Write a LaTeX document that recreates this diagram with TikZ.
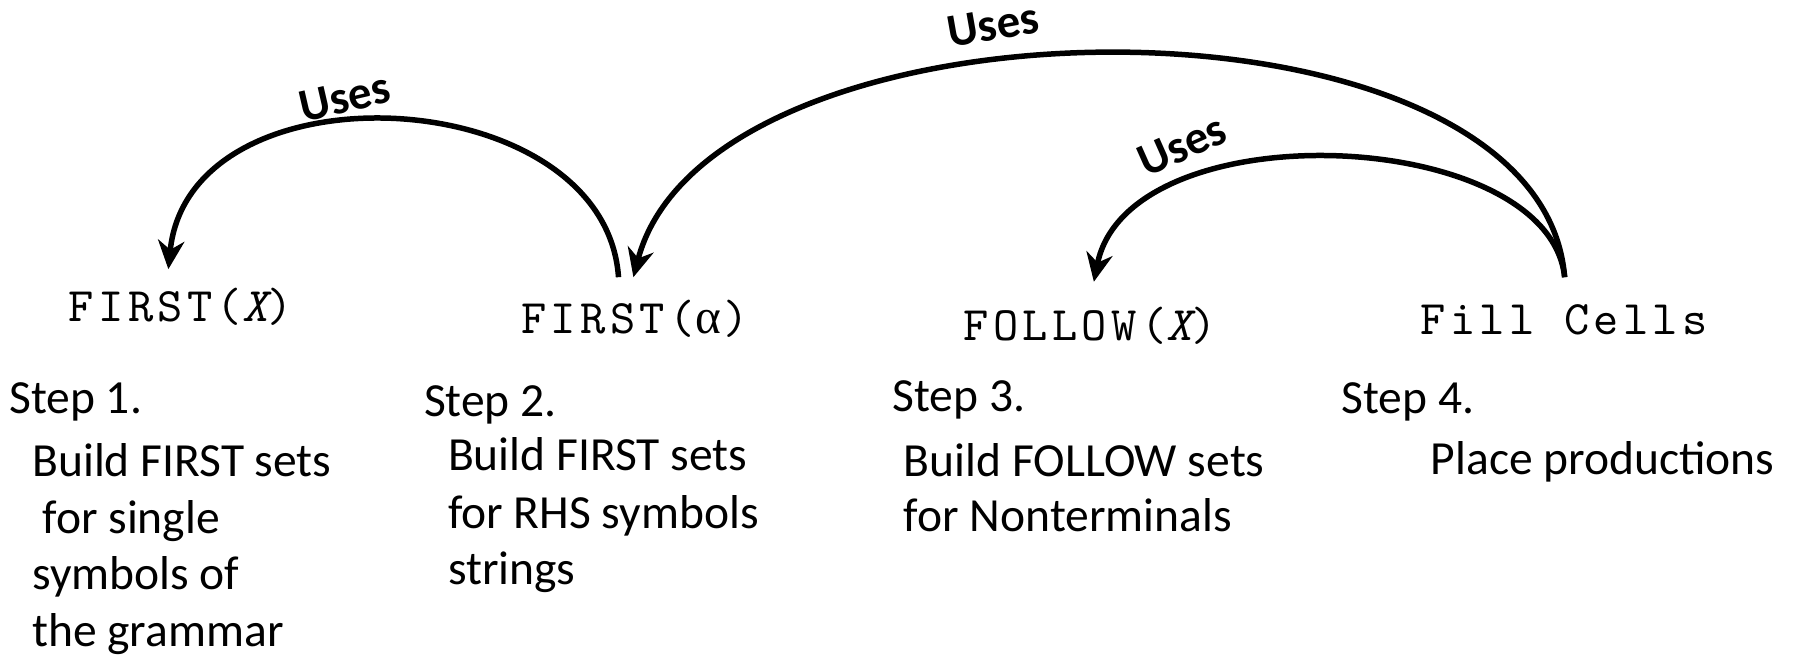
\documentclass[tikz,border=0pt]{standalone}
\usepackage{fontspec}
\setmainfont{Carlito}
\newfontfamily\codefont[LetterSpace=9]{lmmono10-regular.otf}
\newfontfamily\codeslant[LetterSpace=9]{lmmono10-italic.otf}
\newfontfamily\greekfont{Liberation Serif}
\usetikzlibrary{arrows.meta}
% one monospaced cell holding a Greek letter
\newcommand{\gcell}[1]{\makebox[25pt]{\fontsize{43}{50}\greekfont #1}}
\begin{document}
\begin{tikzpicture}[x=1pt,y=-1pt,
  code/.style={font=\codefont\fontsize{42}{50}\selectfont, inner sep=0pt, anchor=base west},
  body/.style={font=\fontsize{41.5}{50}\selectfont, inner sep=0pt, anchor=base west},
  uses/.style={font=\bfseries\fontsize{41}{48}\selectfont, inner sep=0pt},
  link/.style={line width=4.8pt, -{Stealth[length=25pt,width=23pt,inset=8pt]}}]
\useasboundingbox (0,0) rectangle (1568,573);

% set-function labels
\node[code] (fx) at (60,281) {FIRST({\codeslant X})};
\node[code] (fa) at (455,291) {FIRST(\gcell{α})};
\node[code] (fw) at (841,297) {FOLLOW({\codeslant X})};
\node[code] (fc) at (1240,292) {Fill Cells};

% step headings
\node[body] (st1) at (8,361) {Step 1.};
\node[body] (st2) at (370,364) {Step 2.};
\node[body] (st3) at (779,359) {Step 3.};
\node[body] (st4) at (1171,361) {Step 4.};

% step descriptions
\node[body] (d1a) at (28,416) {Build FIRST sets};
\node[body] (d1b) at (37,466) {for single};
\node[body] (d1c) at (28,515) {symbols of};
\node[body] (d1d) at (28,564) {the grammar};

\node[body] (d2a) at (391,411) {Build FIRST sets};
\node[body] (d2b) at (391,461) {for RHS symbols};
\node[body] (d2c) at (391,510) {strings};

\node[body] (d3a) at (789,416) {Build FOLLOW sets};
\node[body] (d3b) at (789,464) {for Nonterminals};

\node[body] (d4a) at (1249,414) {Place productions};

% dependency arcs
\coordinate (a1s) at (540,242);
\coordinate (a1e) at (147,235);
\coordinate (fcs) at (1366,242);
\coordinate (a2e) at (553,242);
\coordinate (a3e) at (955,246);

\draw[link] (a1s) .. controls (528,70) and (165,52) .. (a1e);
\draw[link] (fcs) .. controls (1345,-20) and (620,-15) .. (a2e);
\draw[link] (fcs) .. controls (1352,110) and (985,95) .. (a3e);

\node[uses, rotate=13] (u1) at (301,85) {Uses};
\node[uses, rotate=10] (u2) at (867,22) {Uses};
\node[uses, rotate=24] (u3) at (1032,127) {Uses};
\end{tikzpicture}
\end{document}
